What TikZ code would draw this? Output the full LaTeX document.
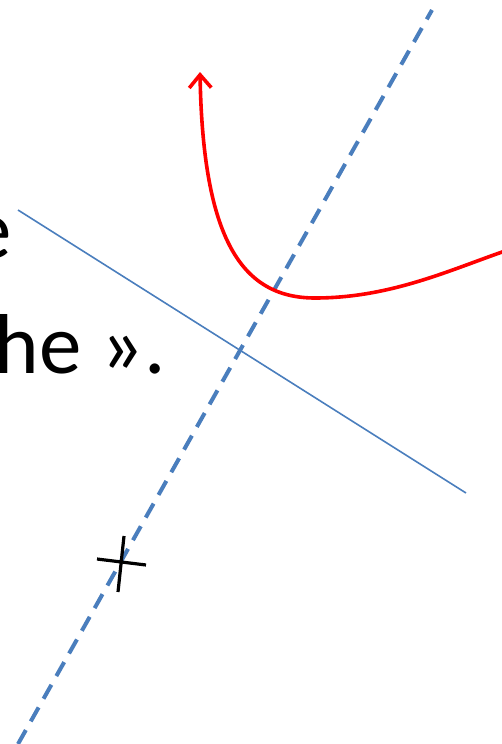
\documentclass[tikz,border=0pt]{standalone}
\usepackage{fontspec}
\setmainfont{Carlito}
\usetikzlibrary{arrows.meta,calc}
\tikzset{axe/.style={draw={rgb,255:red,74;green,126;blue,189}, line width=4pt, dash pattern=on 16pt off 10pt},
  droite/.style={draw={rgb,255:red,74;green,126;blue,189}, line width=1.6pt},
  courbe/.style={draw=red, line width=3.6pt, -{Straight Barb[length=13pt, width=22pt, line width=3.6pt]}},
  txt/.style={font=\fontsize{85}{102}\selectfont, inner sep=0pt}}

\begin{document}
\begin{tikzpicture}[x=1pt, y=-1pt]
  \useasboundingbox (0,0) rectangle (502,744);
  \clip (0,0) rectangle (502,744);
  % texte coupe
  \node[txt, anchor=base east] (l1) at (12,258) {e};
  \node[txt, anchor=base west] (l2) at (-5.5,373) {he ».};
  % axes
  \coordinate (a1) at (18,744);
  \coordinate (a2) at (432,10);
  \draw[axe] (a1) -- (a2);
  \coordinate (d1) at (18,210);
  \coordinate (d2) at (466,493);
  \draw[droite] (d1) -- (d2);
  % croix
  \coordinate (c) at (121,562);
  \draw[line width=3.2pt] ($(c)+(-24,-3)$) -- ($(c)+(25,3)$);
  \draw[line width=3.2pt] ($(c)+(3,-26)$) -- ($(c)+(-3,30)$);
  % courbe
  \coordinate (r0) at (505,251);
  \coordinate (rm) at (315,298);
  \coordinate (r1) at (200,72);
  \draw[courbe] (r0) .. controls (450,270) and (390,298) .. (rm)
    .. controls (242,298) and (203,240) .. (r1);
\end{tikzpicture}
\end{document}
